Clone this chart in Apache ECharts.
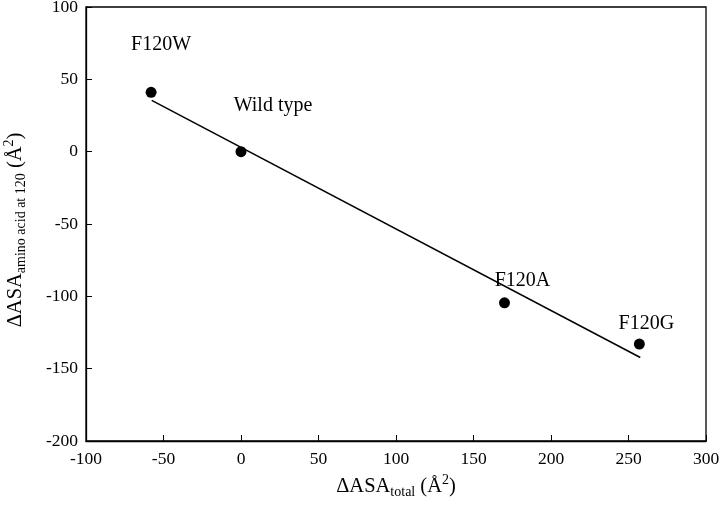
<!DOCTYPE html>
<html>
<head>
<meta charset="utf-8">
<script src="https://cdn.jsdelivr.net/npm/echarts@6/dist/echarts.min.js"></script>
<style>html,body{margin:0;padding:0;background:#fff}#c{width:720px;height:513px}</style>
</head>
<body>
<div id="c"></div>
<script>
// Data
const mutants = ['F120W', 'Wild type', 'F120A', 'F120G'];
const deltaTotal = [-58, 0, 170, 257];
const deltaAmino = [41, 0, -104.5, -133];
// Regression line endpoints as drawn
const fitX = [-57.6, 257.6];
const fitY = [35.5, -142.3];
const xTicks = [-100, -50, 0, 50, 100, 150, 200, 250, 300];
const yTicks = [-200, -150, -100, -50, 0, 50, 100];

// label offsets (layout only)
const labelOffsets = [[10, -48], [32, -46], [18, -22], [7, -20]];

const font = '"Liberation Serif", "Times New Roman", serif';
const chart = echarts.init(document.getElementById('c'));
const pts = mutants.map((m, i) => ({
  value: [deltaTotal[i], deltaAmino[i]],
  name: m,
  label: { show: true, formatter: m, position: 'inside', offset: labelOffsets[i], color: '#000', fontFamily: font, fontSize: 20 }
}));
const richStyles = {
  m: { fontFamily: font, fontSize: 20.5, color: '#000', lineHeight: 26 },
  sub: { fontFamily: font, fontSize: 14, color: '#000', lineHeight: 26, padding: [11, 0, 0, 0] },
  sup: { fontFamily: font, fontSize: 14, color: '#000', lineHeight: 26, padding: [0, 0, 13, 0] }
};
chart.setOption({
  animation: false,
  grid: { left: 86, right: 14, top: 7, bottom: 72, outerBoundsMode: 'none', containLabel: false, show: true, borderColor: '#000', borderWidth: 1.3, backgroundColor: 'transparent' },
  xAxis: {
    type: 'value', min: xTicks[0], max: xTicks[xTicks.length - 1], interval: 50,
    axisLine: { show: true, onZero: false, lineStyle: { color: '#000', width: 1.3 } },
    axisTick: { show: true, inside: true, length: 6, lineStyle: { color: '#000' } },
    splitLine: { show: false },
    axisLabel: { color: '#000', fontFamily: font, fontSize: 17.5, margin: 9 },
    name: '{m|ΔASA}{sub|total}{m| (Å}{sup|2}{m|)}',
    nameLocation: 'middle', nameGap: 24,
    nameTextStyle: { rich: richStyles }
  },
  yAxis: {
    type: 'value', min: yTicks[0], max: yTicks[yTicks.length - 1], interval: 50,
    axisLine: { show: true, onZero: false, lineStyle: { color: '#000', width: 1.3 } },
    axisTick: { show: true, inside: true, length: 6, lineStyle: { color: '#000' } },
    splitLine: { show: false },
    axisLabel: { color: '#000', fontFamily: font, fontSize: 17.5, margin: 8 },
    name: '{m|ΔASA}{sub|amino acid at 120}{m| (Å}{sup|2}{m|)}',
    nameLocation: 'middle', nameGap: 57,
    nameTextStyle: { padding: [0, 12, 0, 0], rich: richStyles }
  },
  series: [
    {
      type: 'line',
      data: fitX.map((x, i) => [x, fitY[i]]),
      showSymbol: false, symbol: 'none',
      lineStyle: { color: '#000', width: 1.5 },
      z: 2
    },
    {
      type: 'scatter',
      data: pts,
      symbolSize: 11,
      itemStyle: { color: '#000', opacity: 1 },
      z: 3
    }
  ]
});
</script>
</body>
</html>
